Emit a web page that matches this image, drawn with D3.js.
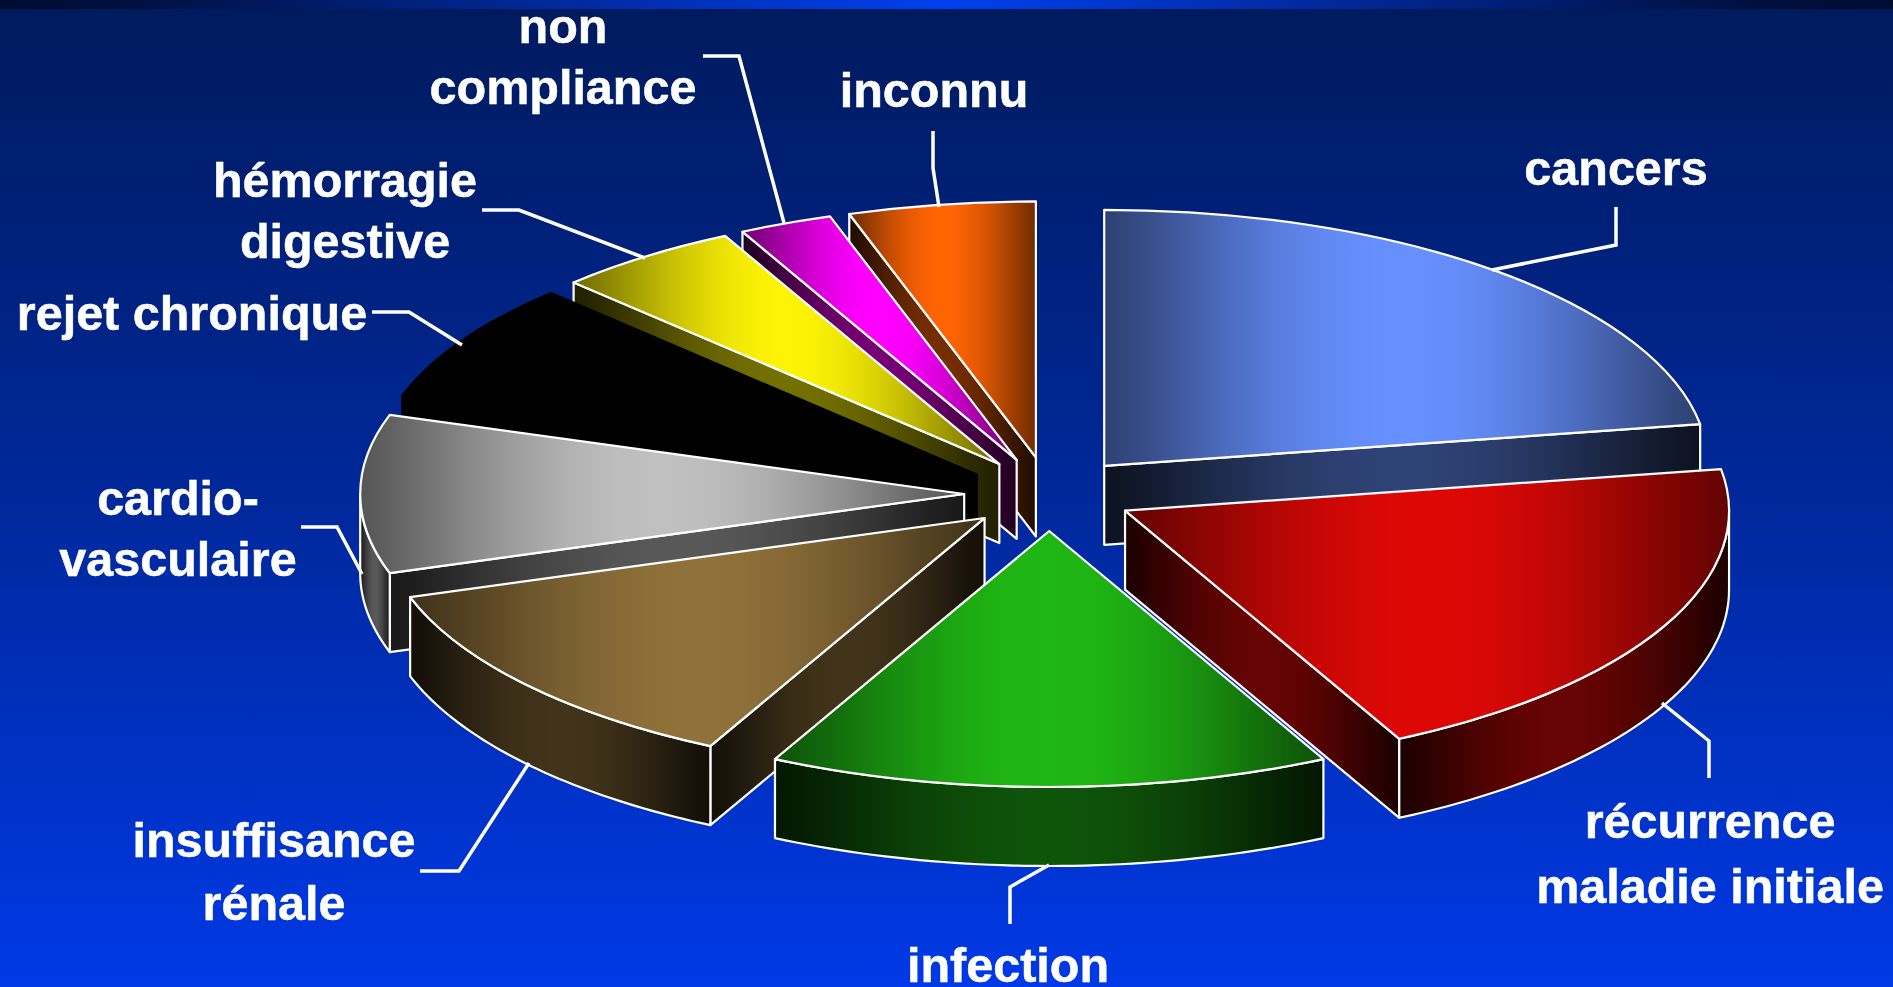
<!DOCTYPE html>
<html lang="fr">
<head>
<meta charset="utf-8">
<title>Causes de décès</title>
<style>
  html, body { margin: 0; padding: 0; background: #0033dd; overflow: hidden; }
  svg { display: block; }
  text { font-family: "Liberation Sans", Arial, sans-serif; font-weight: 700; fill: #fff; stroke: #fff; stroke-width: 0.5px; font-size: 48.5px; text-anchor: middle; }
</style>
<script src="https://cdn.jsdelivr.net/npm/d3@7/dist/d3.min.js"></script>
</head>
<body>
<svg id="chart" width="1893" height="987"></svg>
<script>
// Share of each cause, clockwise from twelve o'clock.
const causes = ["cancers", "récurrence maladie initiale", "infection", "insuffisance rénale",
                "cardio-vasculaire", "rejet chronique", "hémorragie digestive", "non compliance", "inconnu"];
const shares = [22.4, 20.1, 15.0, 12.5, 10.0, 7.55, 4.95, 2.5, 5.0];
const colors = ["#6690ff", "#dd0806", "#1fb714", "#90713a", "#c0c0c0", "#000000", "#fcf305", "#ff00ff", "#ff6403"];

// Projection of the exploded disc.
const W = 1893, H = 987;
const center = { x: 1049.2, y: 494 };
const rx = 604, ry = 256, depth = 79;
const pullX = 85, pullY = 37;
// Back-to-front painting order (indices into the series).
const paintOrder = [0, 8, 7, 6, 5, 4, 3, 1, 2];

const labels = [
  { lines: ["cancers"], x: 1616, y: [185] },
  { lines: ["récurrence", "maladie initiale"], x: 1710, y: [838, 903] },
  { lines: ["infection"], x: 1008, y: [982] },
  { lines: ["insuffisance", "rénale"], x: 274, y: [857, 920] },
  { lines: ["cardio-", "vasculaire"], x: 178, y: [515, 576] },
  { lines: ["rejet chronique"], x: 192, y: [330] },
  { lines: ["hémorragie", "digestive"], x: 345, y: [197, 258] },
  { lines: ["non", "compliance"], x: 563, y: [43, 104] },
  { lines: ["inconnu"], x: 934, y: [107] }
];
const leaders = [
  [[1616, 207], [1616, 245], [1492, 270]],
  [[1662, 703], [1709, 741], [1709, 778]],
  [[1049, 865], [1010, 887], [1010, 924]],
  [[529, 763], [459, 871], [420, 871]],
  [[301, 527], [337, 527], [362, 574]],
  [[372, 312], [409, 312], [462, 345]],
  [[482, 210], [519, 210], [645, 258]],
  [[703, 56], [739, 56], [784, 223]],
  [[933, 131], [933, 168], [939, 207]]
];

const svg = d3.select("#chart");
const defs = svg.append("defs");

// Page backdrop: a dark navy sky falling to saturated blue, with a thin bar on top.
const bg = defs.append("linearGradient").attr("id", "bg").attr("x1", 0).attr("x2", 0).attr("y1", 0).attr("y2", 1);
bg.append("stop").attr("offset", 0).attr("stop-color", "#001a5c");
bg.append("stop").attr("offset", 0.5).attr("stop-color", "#00289a");
bg.append("stop").attr("offset", 1).attr("stop-color", "#0039e6");
const bar = defs.append("linearGradient").attr("id", "bar");
[[0, "#000c30"], [0.07, "#001040"], [0.5, "#0040f0"], [0.92, "#001040"], [1, "#000c30"]].forEach(s =>
  bar.append("stop").attr("offset", s[0]).attr("stop-color", s[1]));
svg.append("rect").attr("width", W).attr("height", H).attr("fill", "url(#bg)");
svg.append("rect").attr("width", W).attr("height", 9).attr("fill", "url(#bar)");

// A horizontal edge-centre-edge sheen following a soft sine bump, used for every face.
function sheen(id, base, edge, mid) {
  const shade = d3.interpolateRgb("#000", base);
  const g = defs.append("linearGradient").attr("id", id);
  d3.range(33).forEach(k => {
    const f = k / 32;
    const u = Math.pow(Math.sin(Math.PI * f), 1.2);
    g.append("stop").attr("offset", f).attr("stop-color", shade(edge + (mid - edge) * u));
  });
}
colors.forEach((c, i) => {
  sheen("top" + i, c, 0.45, 1);
  sheen("side" + i, c, 0.13, 0.46);
});

const pie = d3.pie().sort(null).value(d => d).startAngle(0).endAngle(2 * Math.PI);
const wedges = pie(shares);
const arc = d3.arc().innerRadius(0).outerRadius(rx);
const line = d3.line();
const rim = (a, o) => [o.x + rx * Math.sin(a), o.y - ry * Math.cos(a)];

function apexOf(w) {
  const b = (w.startAngle + w.endAngle) / 2;
  return { x: center.x + pullX * Math.sin(b), y: center.y - pullY * Math.cos(b) };
}

// Curved outer wall between two bearings, closed along its lower edge.
function outerWall(a0, a1, o) {
  const n = 48;
  const upper = d3.range(n + 1).map(k => rim(a0 + (a1 - a0) * k / n, o));
  const lower = upper.slice().reverse().map(p => [p[0], p[1] + depth]);
  return line(upper.concat(lower)) + "Z";
}
// Flat radial wall from the apex out to the rim at one bearing.
function radialWall(a, o) {
  const p = rim(a, o);
  return line([[o.x, o.y], p, [p[0], p[1] + depth], [o.x, o.y + depth]]) + "Z";
}

paintOrder.forEach(i => {
  const w = wedges[i];
  const o = apexOf(w);
  const stroke = colors[i] === "#000000" ? "#000" : "#fff";
  const g = svg.append("g").attr("class", "slice").attr("stroke", stroke)
    .attr("stroke-width", 2.2).attr("stroke-linejoin", "round");
  const side = `url(#side${i})`;

  // Radial walls are seen only when they turn toward the viewer.
  if (Math.sin(w.startAngle) < 0) g.append("path").attr("d", radialWall(w.startAngle, o)).attr("fill", side);
  if (Math.sin(w.endAngle) > 0) g.append("path").attr("d", radialWall(w.endAngle, o)).attr("fill", side);

  // The outer wall shows only over the front half of the rim.
  const a0 = Math.max(w.startAngle, Math.PI / 2), a1 = Math.min(w.endAngle, 3 * Math.PI / 2);
  if (a1 > a0) g.append("path").attr("d", outerWall(a0, a1, o)).attr("fill", side);

  g.append("path")
    .attr("d", arc(w))
    .attr("transform", `translate(${o.x},${o.y}) scale(1,${ry / rx})`)
    .attr("vector-effect", "non-scaling-stroke")
    .attr("fill", `url(#top${i})`);
});

// Leader lines and their captions.
svg.append("g").selectAll("path").data(leaders).join("path")
  .attr("d", d => line(d))
  .attr("fill", "none").attr("stroke", "#fff").attr("stroke-width", 3.5);

labels.forEach(l => {
  l.lines.forEach((t, k) => {
    svg.append("text").attr("x", l.x).attr("y", l.y[k]).text(t);
  });
});
</script>
</body>
</html>
